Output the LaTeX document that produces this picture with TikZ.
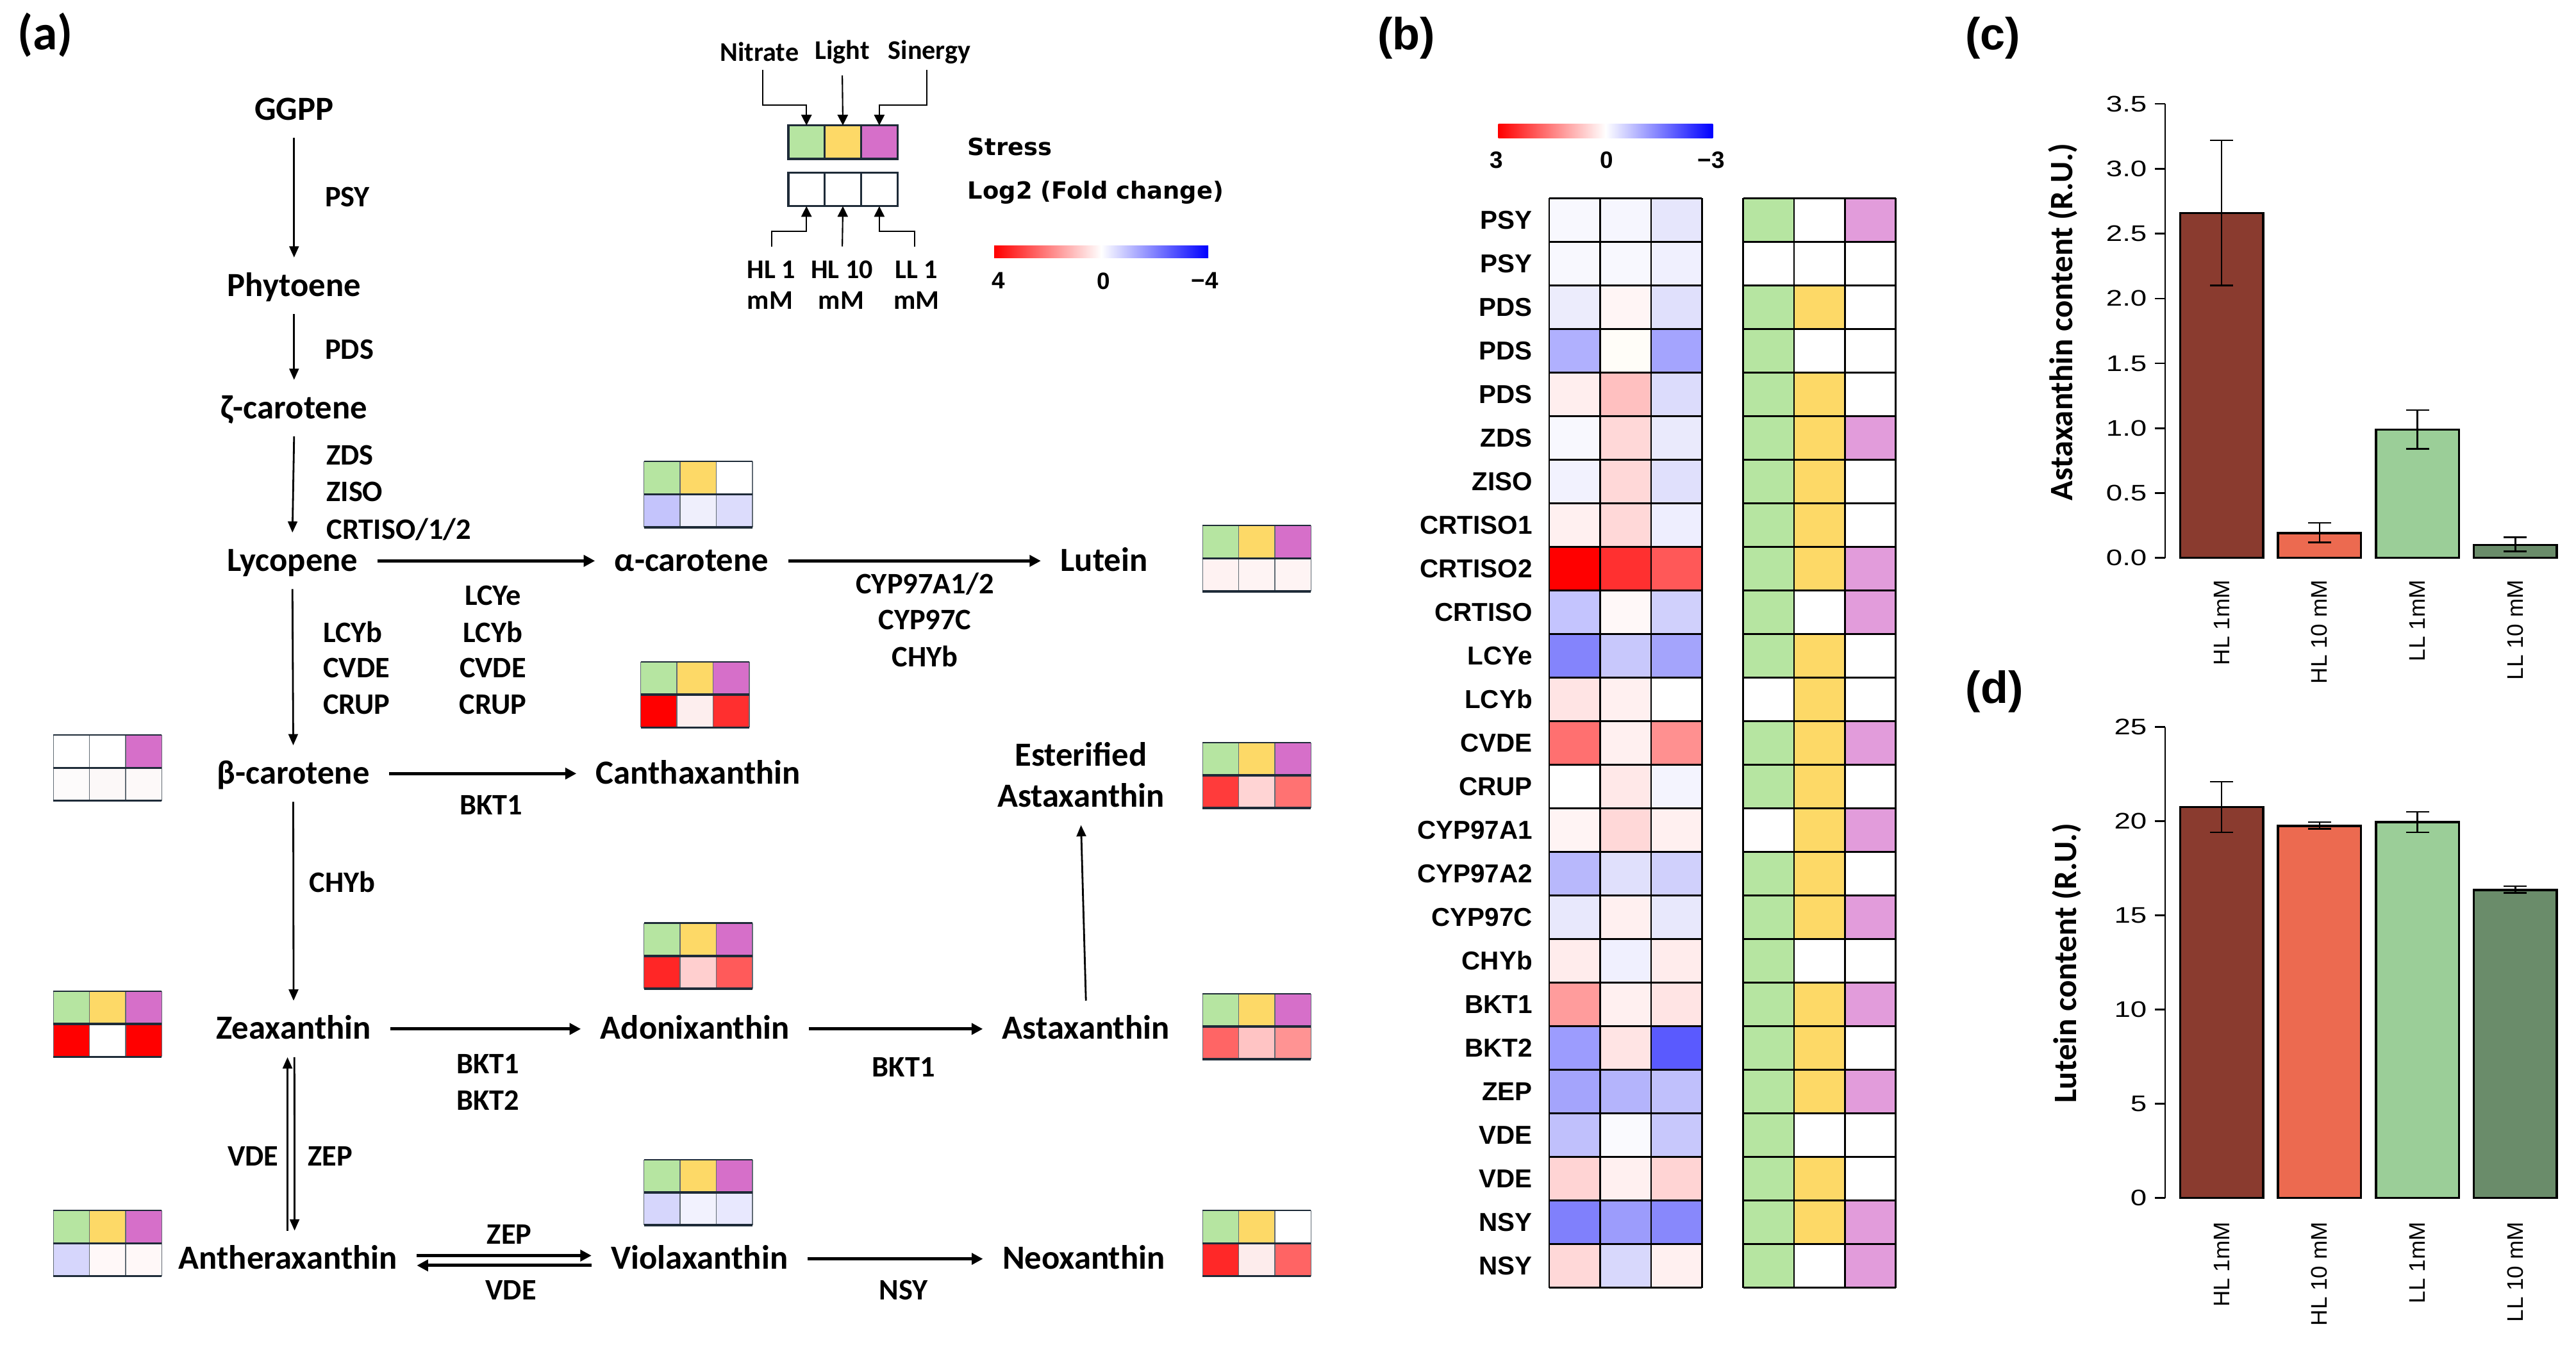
\documentclass[tikz,border=0pt]{standalone}
\usepackage{fontspec}
\setmainfont{Liberation Sans}
\newfontfamily\carl{Carlito}
\newfontfamily\dvs{DejaVu Sans}
\newfontfamily\widesans[FakeStretch=1.3]{Liberation Sans}
\usetikzlibrary{arrows.meta,calc}

\definecolor{sG}{HTML}{B6E5A1}
\definecolor{sY}{HTML}{FDD967}
\definecolor{sM}{HTML}{D66FC9}
\definecolor{sMl}{HTML}{E29CDB}
\definecolor{sW}{HTML}{FFFFFF}
\definecolor{gridc}{HTML}{1E2B38}
\definecolor{barA}{HTML}{8A3B2F}
\definecolor{barB}{HTML}{EC6A50}
\definecolor{barC}{HTML}{9BCE98}
\definecolor{barD}{HTML}{6A8C6A}

\newcommand\fcmp{\carl\bfseries\fontsize{15}{17}\selectfont}
\newcommand\fenz{\carl\bfseries\fontsize{13.2}{15}\selectfont}
\newcommand\fleg{\carl\bfseries\fontsize{12}{14}\selectfont}
\newcommand\fstr{\dvs\bfseries\fontsize{10.5}{12}\selectfont}
\newcommand\fhm{\bfseries\fontsize{11.5}{13}\selectfont}
\newcommand\fcb{\bfseries\fontsize{10.5}{12}\selectfont}
\newcommand\ftick{\widesans\fontsize{10}{12}\selectfont}
\newcommand\fxl{\fontsize{10}{12}\selectfont}
\newcommand\fylab{\carl\bfseries\fontsize{14.5}{16}\selectfont}
\newcommand\fpana{\carl\bfseries\fontsize{22}{24}\selectfont}
\newcommand\fpanb{\bfseries\fontsize{20}{22}\selectfont}

\newcommand{\mhm}[7]{%
  \begin{scope}[shift={#1}]
    \foreach \cc [count=\i from 0] in {#2,#3,#4}{\fill[\cc] ({22*\i},0) rectangle ++(22,20);}
    \foreach \cc [count=\i from 0] in {#5,#6,#7}{\definecolor{tmpc}{HTML}{\cc}\fill[tmpc] ({22*\i},20) rectangle ++(22,20);}
    \foreach \i in {0,1,2,3}{\draw[gridc!70,line width=0.4pt] ({22*\i},0) -- ({22*\i},40);}
    \draw[gridc,line width=0.6pt] (0,0) -- (66,0);
    \draw[gridc,line width=1pt] (0,20) -- (66,20) (0,40) -- (66,40);
  \end{scope}}

\tikzset{
  cmp/.style={font=\fcmp, inner xsep=8.5pt, inner ysep=0pt, minimum height=24.7pt, text height=10pt, text depth=0.8pt},
  enz/.style={font=\fenz, inner sep=0pt},
  varr/.style={line width=0.8pt, -{Triangle[length=5pt,width=4.2pt]}},
  harr/.style={line width=1.4pt, -{Triangle[length=5pt,width=5pt]}},
  legarr/.style={line width=0.6pt, -{Triangle[length=4.7pt,width=4.6pt]}},
  leg/.style={font=\fleg, inner sep=0pt},
  lcell/.style={draw=gridc, line width=0.9pt, minimum width=16.1pt, minimum height=14.9pt, inner sep=0pt, outer sep=0pt},
  hlab/.style={font=\fhm, anchor=east, inner sep=0pt},
  hmline/.style={line width=0.8pt, black},
  cblab/.style={font=\fcb, inner sep=0pt},
  tick/.style={font=\ftick, inner sep=0pt, anchor=east},
  xlab/.style={font=\fxl, inner sep=0pt, rotate=90, anchor=east},
  axl/.style={line width=0.7pt},
  bar/.style={draw=black, line width=1pt},
  ebar/.style={line width=0.7pt},
}

\begin{document}
\begin{tikzpicture}[x=0.02563cm, y=-0.02563cm]
\useasboundingbox (0,0) rectangle (1568,823);
\fill[white] (0,0) rectangle (1568,823);

% ---------------- panel labels
\node[font=\fpana, inner sep=0pt] (pa) at (27.4,21.5) {(a)};
\node[font=\fpanb, inner sep=0pt] (pb) at (856,23) {(b)};
\node[font=\fpanb, inner sep=0pt] (pc) at (1213,23) {(c)};
\node[font=\fpanb, inner sep=0pt] (pd) at (1214,421) {(d)};

% ---------------- panel (a) compounds
\node[cmp] (ggpp) at (179,66.7) {GGPP};
\node[cmp] (phy) at (179,174) {Phytoene};
\node[cmp] (zeta) at (179,248.5) {ζ-carotene};
\node[cmp] (lyc) at (178,341.5) {Lycopene};
\node[cmp] (acar) at (421,341.5) {α-carotene};
\node[cmp] (lut) at (672,341.5) {Lutein};
\node[cmp] (bcar) at (178.5,471) {β-carotene};
\node[cmp] (can) at (425,471) {Canthaxanthin};
\node[cmp] (est1) at (658,460) {Esterified};
\node[cmp] (est2) at (658,485.2) {Astaxanthin};
\node[cmp] (zea) at (178.7,626.5) {Zeaxanthin};
\node[cmp] (ado) at (423,626.5) {Adonixanthin};
\node[cmp] (asta) at (661,626.5) {Astaxanthin};
\node[cmp] (anth) at (175.3,766.5) {Antheraxanthin};
\node[cmp] (vio) at (425.8,766.5) {Violaxanthin};
\node[cmp] (neo) at (659.7,766.5) {Neoxanthin};

% arrows
\draw[varr] (ggpp.south) -- (phy.north);
\draw[varr] (phy.south) -- (zeta.north);
\draw[varr] (zeta.south) -- (lyc.north);
\draw[varr] (lyc.south) -- (bcar.north);
\draw[varr] (bcar.south) -- (zea.north);
\draw[harr] (lyc.east) -- (acar.west);
\draw[harr] (acar.east) -- (lut.west);
\draw[harr] (bcar.east) -- (can.west);
\draw[harr] (zea.east) -- (ado.west);
\draw[harr] (ado.east) -- (asta.west);
\draw[varr] (asta.north) -- (est2.south);
\draw[varr] ($(zea.south)+(0.5,0)$) -- ($(anth.north)+(4,0)$);
\draw[varr] ($(anth.north)+(-0.3,0)$) -- ($(zea.south)+(-3.7,0)$);
\draw[harr] ($(anth.east)+(0,-2)$) -- ($(vio.west)+(0,-2)$);
\draw[harr] ($(vio.west)+(0,4)$) -- ($(anth.east)+(0,4)$);
\draw[harr] (vio.east) -- (neo.west);

% enzymes
\node[enz,anchor=west] (ePSY) at (197.6,119.8) {PSY};
\node[enz,anchor=west] (ePDS) at (197.6,212.7) {PDS};
\node[enz,anchor=west] (eZDS) at (198.5,277.2) {ZDS};
\node[enz,anchor=west] (eZISO) at (198.5,299.6) {ZISO};
\node[enz,anchor=west] (eCRT) at (198.5,322.4) {CRTISO/1/2};
\node[enz,anchor=west] (eLb1) at (196.4,384.7) {LCYb};
\node[enz,anchor=west] (eCV1) at (196.4,406.8) {CVDE};
\node[enz,anchor=west] (eCR1) at (196.4,428.8) {CRUP};
\node[enz] (eLe2) at (300,362.7) {LCYe};
\node[enz] (eLb2) at (300,384.7) {LCYb};
\node[enz] (eCV2) at (300,406.8) {CVDE};
\node[enz] (eCR2) at (300,428.8) {CRUP};
\node[enz] (eCYA) at (563,355.5) {CYP97A1/2};
\node[enz] (eCYC) at (563,377.6) {CYP97C};
\node[enz] (eCHa) at (563,399.6) {CHYb};
\node[enz] (eBK1) at (299,490) {BKT1};
\node[enz,anchor=west] (eCHb) at (188,537) {CHYb};
\node[enz] (eBK2) at (297,648) {BKT1};
\node[enz] (eBK3) at (297,670) {BKT2};
\node[enz] (eBK4) at (550,649.7) {BKT1};
\node[enz] (eVDE1) at (154,704) {VDE};
\node[enz] (eZEP1) at (201,704) {ZEP};
\node[enz] (eZEP2) at (310,751.5) {ZEP};
\node[enz] (eVDE2) at (311,785.6) {VDE};
\node[enz] (eNSY) at (550,785.6) {NSY};

% mini heatmaps
\mhm{(392,281)}{sG}{sY}{sW}{C4C4FC}{EFEFFC}{DCDCFC}
\mhm{(390,403)}{sG}{sY}{sM}{FF0000}{FDEEEE}{FF2F2F}
\mhm{(732,320)}{sG}{sY}{sM}{FEF2F2}{FEF4F4}{FEF4F4}
\mhm{(32.5,447.5)}{sW}{sW}{sM}{FDFBFB}{FCF8F8}{FDF9F9}
\mhm{(732,452)}{sG}{sY}{sM}{FF3B3B}{FFD4D4}{FF7272}
\mhm{(32.5,603.5)}{sG}{sY}{sM}{FF0000}{FFFFFF}{FF0000}
\mhm{(392,562)}{sG}{sY}{sM}{FF2626}{FFCFCF}{FF5A5A}
\mhm{(732,605)}{sG}{sY}{sM}{FF6565}{FFC4C4}{FF9393}
\mhm{(32.5,737)}{sG}{sY}{sM}{D6D6FC}{FFF8F8}{FFF8F8}
\mhm{(392,706)}{sG}{sY}{sM}{D6D6FC}{F2F2FE}{E8E8FE}
\mhm{(732,737)}{sG}{sY}{sW}{FF2828}{FDECEC}{FF6464}

% ---------------- legend
\node[leg] (nit) at (462.3,31.7) {Nitrate};
\node[leg] (lig) at (512.7,31.7) {Light};
\node[leg] (sin) at (565.7,31.7) {Sinergy};
\foreach \cc [count=\i] in {sG,sY,sM}{\node[lcell, fill=\cc] (s\i) at ({479.8+22.17*(\i-0.5)},86.55) {};}
\foreach \i in {1,2,3}{\node[lcell, fill=white] (l\i) at ({479.8+22.17*(\i-0.5)},115.35) {};}
\draw[legarr] ($(nit)+(1.8,11)$) -- ($(nit)+(1.8,32.3)$) -| (s1.north);
\draw[legarr] ($(lig)+(0,14.2)$) -- (s2.north);
\draw[legarr] ($(sin)+(-1.5,11)$) -- ($(sin)+(-1.5,32.3)$) -| (s3.north);
\node[leg] (hl1a) at (469.4,164.3) {HL 1};
\node[leg] (hl1b) at (468.7,183.1) {mM};
\node[leg] (hl10a) at (512.5,164.3) {HL 10};
\node[leg] (hl10b) at (512,183.1) {mM};
\node[leg] (ll1a) at (557.8,164.3) {LL 1};
\node[leg] (ll1b) at (557.8,183.1) {mM};
\draw[legarr] ($(hl1a)+(0.3,-14.2)$) -- ($(hl1a)+(0.3,-23.3)$) -| (l1.south);
\draw[legarr] ($(hl10a)+(0.2,-14.2)$) -- (l2.south);
\draw[legarr] ($(ll1a)+(-1,-14.2)$) -- ($(ll1a)+(-1,-23.3)$) -| (l3.south);
\node[font=\fstr, inner sep=0pt, anchor=west] (stress) at (588.8,89.3) {Stress};
\node[font=\fstr, inner sep=0pt, anchor=west] (logfc) at (588.8,117.1) {Log2 (Fold change)};
\shade[left color=red, right color=white] (605.2,149.5) rectangle (670.35,157.2);
\shade[left color=white, right color=blue] (670.35,149.5) rectangle (735.5,157.2);
\node[cblab] (cb4) at (607.9,171) {4};
\node[cblab] (cb0) at (671.7,171) {0};
\node[cblab] (cbm4) at (733.3,171) {−4};

% ---------------- panel (b)
\shade[left color=red, right color=white] (912,75.5) rectangle (977.3,84);
\shade[left color=white, right color=blue] (977.3,75.5) rectangle (1042.6,84);
\node[cblab] (bc3) at (911,97.6) {3};
\node[cblab] (bc0) at (978,97.6) {0};
\node[cblab] (bcm3) at (1041.6,97.6) {−3};

\foreach \lab/\hA/\hB/\hC/\sA/\sB/\sC [count=\k from 0] in {
PSY/F8F8FE/F6F6FE/E6E6FC/sG/sW/sMl,
PSY/F8F8FE/F8F8FE/F0F0FE/sW/sW/sW,
PDS/ECECFC/FFF5F5/E0E0FC/sG/sY/sW,
PDS/B0B0FE/FFFDF8/A4A4FE/sG/sW/sW,
PDS/FFEEEE/FFC0C0/DCDCFC/sG/sY/sW,
ZDS/F8F8FE/FFD8D8/EAEAFC/sG/sY/sMl,
ZISO/F2F2FE/FFD8D8/E0E0FC/sG/sY/sW,
CRTISO1/FFF0F0/FFD8D8/EEEEFE/sG/sY/sW,
CRTISO2/FF0000/FF3030/FF5858/sG/sY/sMl,
CRTISO/C4C4FE/FFF8F8/D0D0FC/sG/sW/sMl,
LCYe/8484FC/C8C8FC/A4A4FC/sG/sY/sW,
LCYb/FFE4E4/FFF0F0/FFFFFF/sW/sY/sW,
CVDE/FF7070/FFF0F0/FF9090/sG/sY/sMl,
CRUP/FFFFFF/FFE8E8/F4F4FE/sG/sY/sW,
CYP97A1/FFF4F4/FFD8D8/FFF0F0/sW/sY/sMl,
CYP97A2/B8B8FC/E0E0FC/D0D0FC/sG/sY/sW,
CYP97C/E8E8FC/FFF0F0/E8E8FC/sG/sY/sMl,
CHYb/FFECEC/F0F0FE/FFECEC/sG/sW/sW,
BKT1/FF9C9C/FFF0F0/FFE4E4/sG/sY/sMl,
BKT2/9C9CFE/FFE4E4/5A5AFE/sG/sY/sW,
ZEP/A4A4FC/B4B4FC/C0C0FC/sG/sY/sMl,
VDE/C0C0FC/FAFAFE/C8C8FC/sG/sW/sW,
VDE/FFD4D4/FFF0F0/FFD4D4/sG/sY/sW,
NSY/8080FC/9C9CFC/8888FC/sG/sY/sMl,
NSY/FFD8D8/D8D8FC/FFF0F0/sG/sW/sMl}{
  \pgfmathsetmacro{\yt}{120.7+26.53*\k}
  \definecolor{ha}{HTML}{\hA}\definecolor{hb}{HTML}{\hB}\definecolor{hc}{HTML}{\hC}
  \fill[ha] (943,\yt) rectangle (974,{\yt+26.53});
  \fill[hb] (974,\yt) rectangle (1005,{\yt+26.53});
  \fill[hc] (1005,\yt) rectangle (1036,{\yt+26.53});
  \fill[\sA] (1061,\yt) rectangle (1092,{\yt+26.53});
  \fill[\sB] (1092,\yt) rectangle (1123,{\yt+26.53});
  \fill[\sC] (1123,\yt) rectangle (1154,{\yt+26.53});
  \node[hlab] (g\k) at (933,{\yt+13.27}) {\lab};
}
\foreach \k in {0,...,25}{\draw[hmline] (943,{120.7+26.53*\k}) -- (1036,{120.7+26.53*\k}) (1061,{120.7+26.53*\k}) -- (1154,{120.7+26.53*\k});}
\foreach \xx in {943,974,1005,1036,1061,1092,1123,1154}{\draw[hmline] (\xx,120.7) -- (\xx,784);}

% ---------------- panel (c)
\draw[axl] (1318,339.7) -- (1318,63.3);
\foreach \v [count=\i] in {0.0,0.5,1.0,1.5,2.0,2.5,3.0,3.5}{
  \draw[axl] (1311.5,{339.7-\v*78.97}) -- (1318,{339.7-\v*78.97});
  \node[tick] (tc\i) at (1307,{339.7-\v*78.97}) {\v};}
\foreach \xl/\v/\lo/\hi/\col/\txt [count=\i] in {1327/2.66/2.10/3.22/barA/HL 1mM, 1386.6/0.19/0.12/0.27/barB/HL 10 mM, 1446.2/0.99/0.84/1.14/barC/LL 1mM, 1505.8/0.10/0.05/0.16/barD/LL 10 mM}{
  \filldraw[bar, fill=\col] (\xl,339.7) rectangle ({\xl+50.5},{339.7-\v*78.97});
  \draw[ebar] ({\xl+25.25},{339.7-\lo*78.97}) -- ({\xl+25.25},{339.7-\hi*78.97})
    ({\xl+18.25},{339.7-\lo*78.97}) -- ({\xl+32.25},{339.7-\lo*78.97})
    ({\xl+18.25},{339.7-\hi*78.97}) -- ({\xl+32.25},{339.7-\hi*78.97});
  \node[xlab] (cx\i) at ({\xl+25.25},352.9) {\txt};}
\node[font=\fylab, rotate=90, inner sep=0pt] (ylc) at (1255.5,196) {Astaxanthin content (R.U.)};

% ---------------- panel (d)
\draw[axl] (1318,729.4) -- (1318,442.65);
\foreach \v [count=\i] in {0,5,10,15,20,25}{
  \draw[axl] (1311.5,{729.4-\v*11.47}) -- (1318,{729.4-\v*11.47});
  \node[tick] (td\i) at (1307,{729.4-\v*11.47}) {\v};}
\foreach \xl/\v/\lo/\hi/\col/\txt [count=\i] in {1327/20.75/19.4/22.1/barA/HL 1mM, 1386.6/19.75/19.6/19.95/barB/HL 10 mM, 1446.2/19.95/19.4/20.5/barC/LL 1mM, 1505.8/16.35/16.2/16.55/barD/LL 10 mM}{
  \filldraw[bar, fill=\col] (\xl,729.4) rectangle ({\xl+50.5},{729.4-\v*11.47});
  \draw[ebar] ({\xl+25.25},{729.4-\lo*11.47}) -- ({\xl+25.25},{729.4-\hi*11.47})
    ({\xl+18.25},{729.4-\lo*11.47}) -- ({\xl+32.25},{729.4-\lo*11.47})
    ({\xl+18.25},{729.4-\hi*11.47}) -- ({\xl+32.25},{729.4-\hi*11.47});
  \node[xlab] (dx\i) at ({\xl+25.25},743.8) {\txt};}
\node[font=\fylab, rotate=90, inner sep=0pt] (yld) at (1257.8,586.5) {Lutein content (R.U.)};
\end{tikzpicture}
\end{document}
